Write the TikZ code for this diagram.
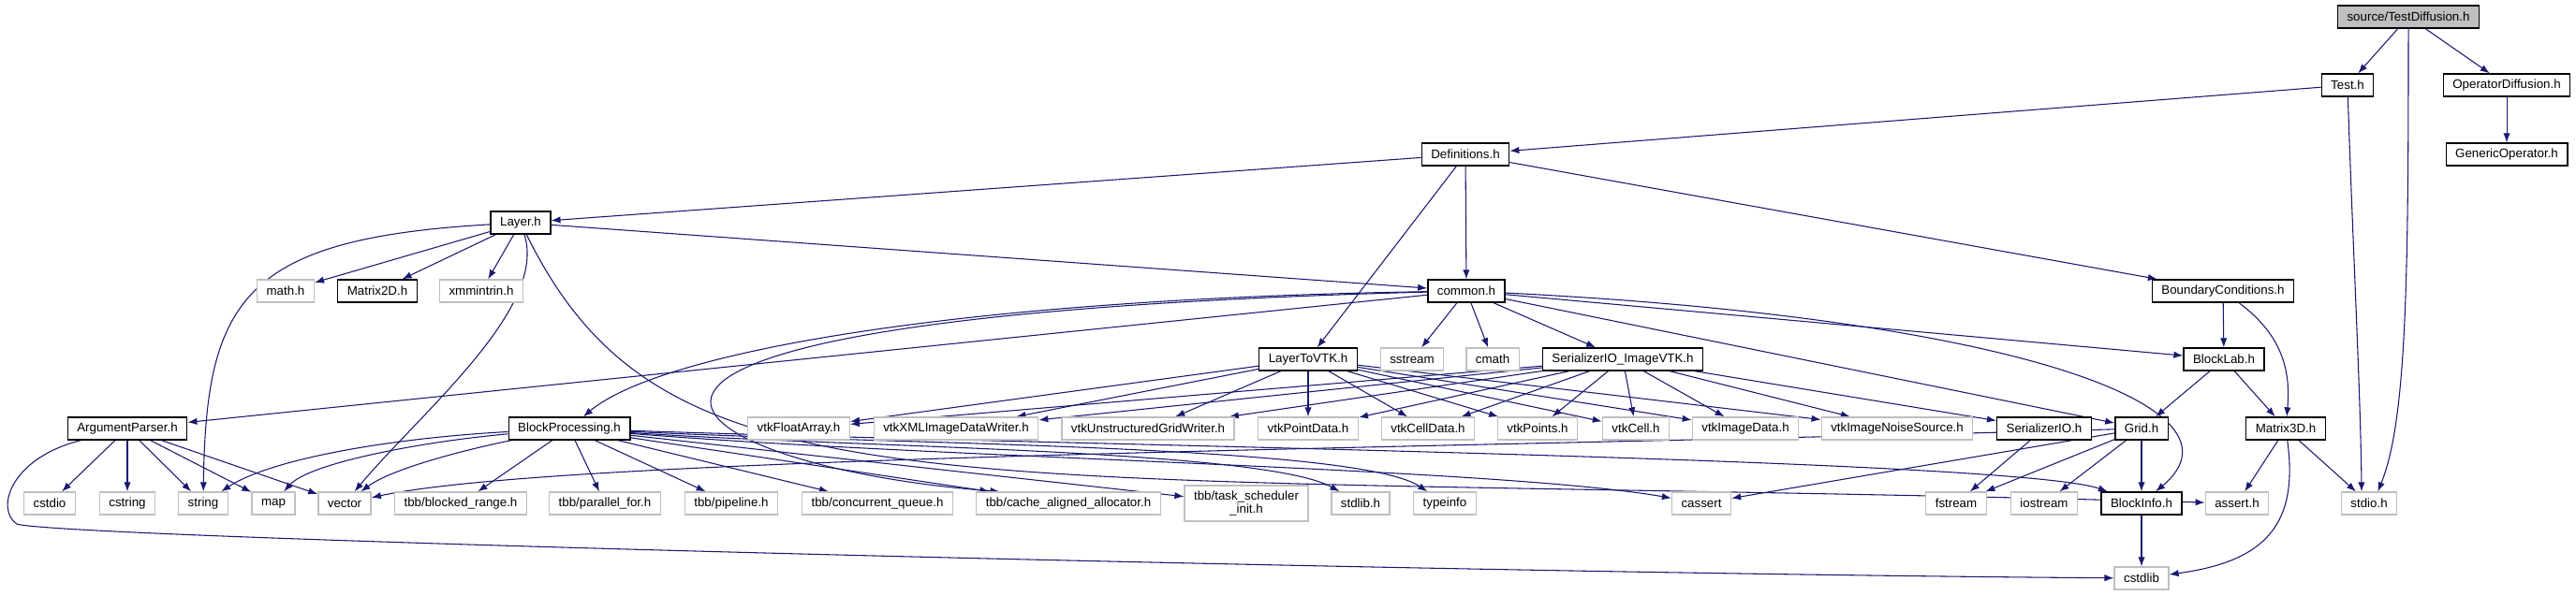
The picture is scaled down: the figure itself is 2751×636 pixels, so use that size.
\documentclass[tikz,border=0pt]{standalone}
\usepackage{fontspec}
\setmainfont{Liberation Sans}
\usetikzlibrary{arrows.meta, positioning}
\definecolor{edgeblue}{HTML}{191970}
\pgfdeclarelayer{edges}
\pgfsetlayers{edges,main}

\begin{document}
\begin{tikzpicture}[
            x=0.75pt, y=-0.75pt,
            file/.style={rectangle, draw=black, line width=1pt, fill=white, inner xsep=7.5pt, inner ysep=0pt, minimum height=18pt, font=\fontsize{10}{12}\selectfont},
            sys/.style={file, draw=gray!50},
            root/.style={file, fill=gray!50},
            line/.style={draw=edgeblue, line width=0.8pt, -{Latex[length=7.5pt, width=5.5pt]}}
        ]
            \useasboundingbox (0,0) rectangle (2751,636);

            % Nodes
            \node [root] (src) at (2572,18) {source/TestDiffusion.h};
            \node [file] (test) at (2507,91) {Test.h};
            \node [file] (opdiff) at (2677,91) {OperatorDiffusion.h};
            \node [file] (genop) at (2677,165) {GenericOperator.h};
            \node [file] (defs) at (1565,165) {Definitions.h};
            \node [file] (layer) at (556,238) {Layer.h};

            \node [sys] (mathh) at (305,311) {math.h};
            \node [file] (mat2d) at (403,311) {Matrix2D.h};
            \node [sys] (xmm) at (514,311) {xmmintrin.h};
            \node [file] (common) at (1566,311) {common.h};
            \node [file] (bc) at (2374,311) {BoundaryConditions.h};

            \node [file] (l2vtk) at (1397,384) {LayerToVTK.h};
            \node [sys] (sstream) at (1508,384) {sstream};
            \node [sys] (cmath) at (1594,384) {cmath};
            \node [file] (serimg) at (1733,384) {SerializerIO\_ImageVTK.h};
            \node [file] (blocklab) at (2375,384) {BlockLab.h};

            \node [file] (argp) at (136,458) {ArgumentParser.h};
            \node [file] (bproc) at (608,458) {BlockProcessing.h};
            \node [sys] (vtkfa) at (853,458) {vtkFloatArray.h};
            \node [sys] (vtkxml) at (1021,458) {vtkXMLImageDataWriter.h};
            \node [sys] (vtkug) at (1226,458) {vtkUnstructuredGridWriter.h};
            \node [sys] (vtkpd) at (1397,458) {vtkPointData.h};
            \node [sys] (vtkcd) at (1525,458) {vtkCellData.h};
            \node [sys] (vtkpts) at (1642,458) {vtkPoints.h};
            \node [sys] (vtkcell) at (1747,458) {vtkCell.h};
            \node [sys] (vtkid) at (1864,458) {vtkImageData.h};
            \node [sys] (vtkins) at (2026,458) {vtkImageNoiseSource.h};
            \node [file] (serio) at (2183,458) {SerializerIO.h};
            \node [file] (grid) at (2287,458) {Grid.h};
            \node [file] (mat3d) at (2441,458) {Matrix3D.h};

            \node [sys] (cstdio) at (53,538) {cstdio};
            \node [sys] (cstring) at (136,538) {cstring};
            \node [sys] (string) at (217,538) {string};
            \node [sys] (map) at (292,538) {map};
            \node [sys] (vector) at (368,538) {vector};
            \node [sys] (blocked) at (492,538) {tbb/blocked\_range.h};
            \node [sys] (pfor) at (646,538) {tbb/parallel\_for.h};
            \node [sys] (pipe) at (781,538) {tbb/pipeline.h};
            \node [sys] (cq) at (937,538) {tbb/concurrent\_queue.h};
            \node [sys] (caa) at (1141,538) {tbb/cache\_aligned\_allocator.h};
            \node [sys, align=center, minimum height=28.5pt, font=\fontsize{10}{11}\selectfont] (tsi) at (1331,538) {tbb/task\_scheduler\\\_init.h};
            \node [sys] (stdlibh) at (1453,538) {stdlib.h};
            \node [sys] (typeinfo) at (1543,538) {typeinfo};
            \node [sys] (cassert) at (1817,538) {cassert};
            \node [sys] (fstream) at (2089,538) {fstream};
            \node [sys] (iostream) at (2183,538) {iostream};
            \node [file] (binfo) at (2287,538) {BlockInfo.h};
            \node [sys] (asserth) at (2389,538) {assert.h};
            \node [sys] (stdio) at (2530,538) {stdio.h};
            \node [sys] (cstdlib) at (2287,618) {cstdlib};

            % Edges
            \begin{pgfonlayer}{edges}
            \path [line] (src) -- (test);
            \path [line] (src) -- (opdiff);
            \path [line] (src.south) .. controls (2572,300) and (2570,450) .. ([xshift=7pt]stdio.north);
            \path [line] (test) .. controls (2512,250) and (2521,420) .. ([xshift=-6pt]stdio.north);
            \path [line] (test) -- (defs);
            \path [line] (opdiff) -- (genop);
            \path [line] (defs) -- (layer);
            \path [line] (defs) -- (l2vtk);
            \path [line] (defs) -- (common);
            \path [line] (defs) -- (bc);

            % Layer.h
            \path [line] (layer) -- (mathh);
            \path [line] (layer) -- (mat2d);
            \path [line] (layer) -- (xmm);
            \path [line] (layer) -- (common);
            \path [line] (layer) .. controls (260,255) and (220,320) .. (string);
            \path [line] (layer) .. controls (585,330) and (450,440) .. (vector);
            \path [line] (layer) .. controls (715,560) and (1000,500) .. (asserth);

            % common.h
            \path [line] (common) -- (sstream);
            \path [line] (common) -- (cmath);
            \path [line] (common) -- (serimg);
            \path [line] (common) -- (grid);
            \path [line] (common) -- (blocklab);
            \path [line] (common) .. controls (2150,340) and (2410,435) .. (binfo);
            \path [line] (common) -- (argp);
            \path [line] (common) .. controls (1000,320) and (700,380) .. (bproc);
            \path [line] (common) .. controls (450,340) and (720,500) .. ([xshift=-55pt]caa.north);

            % LayerToVTK.h
            \path [line] (l2vtk) -- (vtkfa);
            \path [line] (l2vtk) -- (vtkxml);
            \path [line] (l2vtk) -- (vtkug);
            \path [line] (l2vtk) -- (vtkpd);
            \path [line] (l2vtk) -- (vtkcd);
            \path [line] (l2vtk) -- (vtkpts);
            \path [line] (l2vtk) -- (vtkcell);
            \path [line] (l2vtk) -- (vtkid);
            \path [line] (l2vtk) -- (vtkins);

            % SerializerIO_ImageVTK.h
            \path [line] (serimg) -- (vtkfa);
            \path [line] (serimg) -- (vtkxml);
            \path [line] (serimg) -- (vtkug);
            \path [line] (serimg) -- (vtkpd);
            \path [line] (serimg) -- (vtkcd);
            \path [line] (serimg) -- (vtkpts);
            \path [line] (serimg) -- (vtkcell);
            \path [line] (serimg) -- (vtkid);
            \path [line] (serimg) -- (vtkins);
            \path [line] (serimg) -- (serio);

            % BoundaryConditions.h, BlockLab.h
            \path [line] (bc) -- (blocklab);
            \path [line] (bc) .. controls (2440,360) and (2446,400) .. (mat3d);
            \path [line] (blocklab) -- (grid);
            \path [line] (blocklab) -- (mat3d);

            % Grid.h, SerializerIO.h, Matrix3D.h, BlockInfo.h
            \path [line] (grid) -- (fstream);
            \path [line] (grid) -- (iostream);
            \path [line] (grid) -- (binfo);
            \path [line] (grid) -- (cassert);
            \path [line] (grid) .. controls (1500,480) and (600,488) .. (vector);
            \path [line] (serio) -- (fstream);
            \path [line] (mat3d) -- (asserth);
            \path [line] (mat3d) -- (stdio);
            \path [line] (mat3d) .. controls (2455,560) and (2420,600) .. (cstdlib);
            \path [line] (binfo) -- (cstdlib);

            % ArgumentParser.h
            \path [line] (argp) -- (cstdio);
            \path [line] (argp) -- (cstring);
            \path [line] (argp) -- (string);
            \path [line] (argp) -- (map);
            \path [line] (argp) -- (vector);
            \path [line] (argp) .. controls (10,490) and (-5,545) .. (18,560) .. controls (60,575) and (1500,612) .. (cstdlib);

            % BlockProcessing.h
            \path [line] (bproc) .. controls (420,468) and (290,490) .. (string);
            \path [line] (bproc) .. controls (450,472) and (330,495) .. (map);
            \path [line] (bproc) .. controls (500,480) and (420,500) .. (vector);
            \path [line] (bproc) -- (blocked);
            \path [line] (bproc) -- (pfor);
            \path [line] (bproc) -- (pipe);
            \path [line] (bproc) -- (cq);
            \path [line] (bproc) -- (caa);
            \path [line] (bproc) -- (tsi);
            \path [line] (bproc) .. controls (900,478) and (1350,480) .. (stdlibh);
            \path [line] (bproc) .. controls (950,475) and (1450,475) .. (typeinfo);
            \path [line] (bproc) .. controls (1000,490) and (1600,500) .. (cassert);
            \path [line] (bproc) .. controls (1100,475) and (2150,490) .. (binfo);
            \end{pgfonlayer}
        \end{tikzpicture}
\end{document}
